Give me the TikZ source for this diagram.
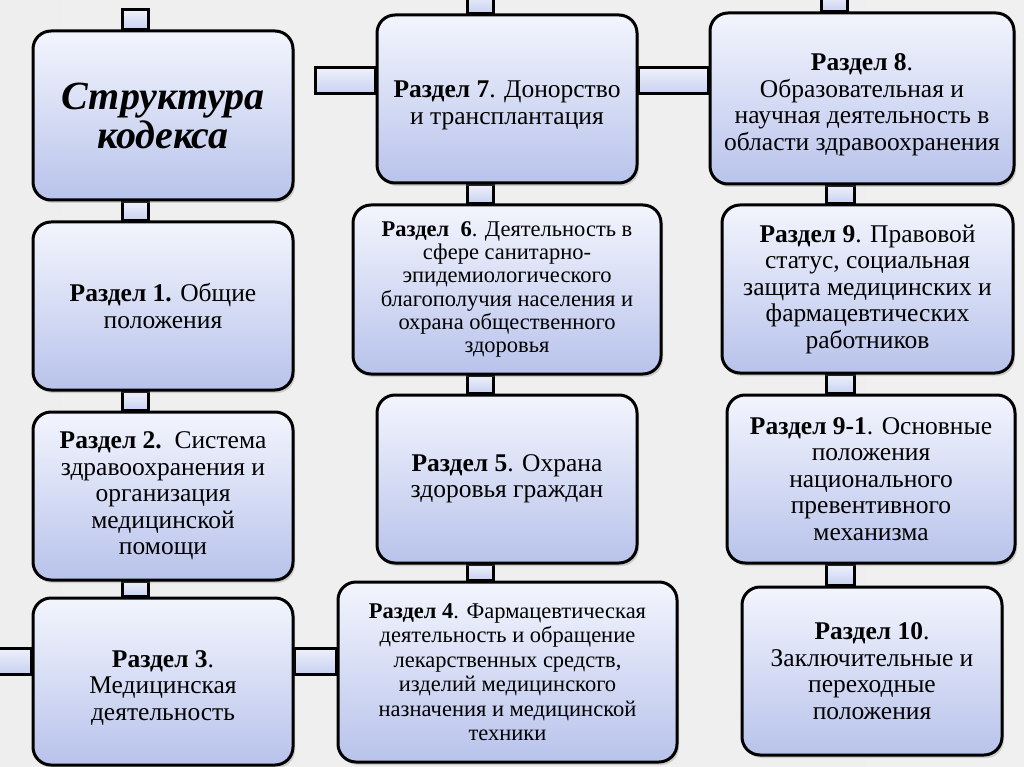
\documentclass[tikz,border=0pt]{standalone}
\usepackage{fontspec}
\setmainfont{Liberation Serif}[BoldItalicFont={Liberation Serif Bold Italic}]
\usepackage{xcolor}
\usepackage{tikz}
\usetikzlibrary{calc,shadows}
\definecolor{boxtop}{RGB}{243,245,253}
\definecolor{boxbot}{RGB}{184,195,235}
\definecolor{bartop}{RGB}{238,241,251}
\definecolor{barbot}{RGB}{200,208,240}
\newcommand{\abajo}{\rule{0pt}{29pt}}
\pgfdeclarelayer{fondo}
\pgfdeclarelayer{barras}
\pgfsetlayers{fondo,barras,main}
\tikzset{
  razdel/.style={draw=black,line width=3pt,rounded corners=18pt,top color=boxtop,bottom color=boxbot,
    align=center,inner sep=2pt,font=\fontsize{25.5}{26.5}\selectfont,
    drop shadow={shadow xshift=2pt,shadow yshift=-3pt,opacity=0.3,fill=gray}},
  svyaz/.style={draw=black,line width=3pt,top color=bartop,bottom color=barbot}
}

\begin{document}
\begin{tikzpicture}[x=1pt,y=-1pt]
\useasboundingbox (0,0) rectangle (1024,767);
\begin{pgfonlayer}{fondo}
\shade[left color=gray!13,middle color=white,right color=gray!12] (0,0) rectangle (1024,767);
\end{pgfonlayer}
% left column
\node[razdel,minimum width=260pt,minimum height=169pt,font=\fontsize{40}{39}\selectfont\bfseries\itshape] (t) at (163,115.5) {Структура\\кодекса};
\node[razdel,minimum width=260pt,minimum height=168pt] (r1) at (163,306) {\textbf{Раздел 1.} Общие\\положения};
\node[razdel,minimum width=260pt,minimum height=168pt] (r2) at (163,496) {\textbf{Раздел 2.}\ \ Система\\здравоохранения и\\организация\\медицинской\\помощи};
\node[razdel,minimum width=260pt,minimum height=167pt] (r3) at (163,681.5) {\abajo\textbf{Раздел 3}.\\Медицинская\\деятельность};
% middle column
\node[razdel,minimum width=260pt,minimum height=168pt] (r7) at (507,99) {\abajo\textbf{Раздел 7}. Донорство\\и трансплантация};
\node[razdel,minimum width=308pt,minimum height=169pt,font=\fontsize{22.5}{23.2}\selectfont] (r6) at (507,289.5) {\textbf{Раздел\ \ 6}. Деятельность в\\сфере санитарно-\\эпидемиологического\\благополучия населения и\\охрана общественного\\здоровья};
\node[razdel,minimum width=260pt,minimum height=168pt] (r5) at (507,479) {\textbf{Раздел 5}. Охрана\\здоровья граждан};
\node[razdel,minimum width=339pt,minimum height=180pt,font=\fontsize{22.5}{24.5}\selectfont] (r4) at (507.5,672) {\textbf{Раздел 4}. Фармацевтическая\\деятельность и обращение\\лекарственных средств,\\изделий медицинского\\назначения и медицинской\\техники};
% right column
\node[razdel,minimum width=304pt,minimum height=171pt] (r8) at (862,98.5) {\abajo\textbf{Раздел 8}.\\Образовательная и\\научная деятельность в\\области здравоохранения};
\node[razdel,minimum width=291pt,minimum height=168pt] (r9) at (867.5,289) {\textbf{Раздел 9}. Правовой\\статус, социальная\\защита медицинских и\\фармацевтических\\работников};
\node[razdel,minimum width=288pt,minimum height=168pt] (r91) at (871,479) {\textbf{Раздел 9-1}. Основные\\положения\\национального\\превентивного\\механизма};
\node[razdel,minimum width=260pt,minimum height=168pt] (r10) at (872,671) {\textbf{Раздел 10}.\\Заключительные и\\переходные\\положения};
% bars
\coordinate (vL) at (135,0); \coordinate (vM) at (480,0); \coordinate (vR) at (840,0);
\coordinate (tL) at (135,10); \coordinate (tM) at (480,-6); \coordinate (tR) at (834,-6);
\coordinate (hT) at (315,81); \coordinate (hB) at (-6,661);
\begin{pgfonlayer}{barras}
\draw[svyaz] ($(tL)+(-13,0)$) rectangle ($(t.north -| vL)+(13,0)$);
\draw[svyaz] ($(t.south -| vL)+(-13,0)$) rectangle ($(r1.north -| vL)+(13,0)$);
\draw[svyaz] ($(r1.south -| vL)+(-13,0)$) rectangle ($(r2.north -| vL)+(13,0)$);
\draw[svyaz] ($(r2.south -| vL)+(-13,0)$) rectangle ($(r3.north -| vL)+(13,0)$);
\draw[svyaz] ($(tM)+(-13,0)$) rectangle ($(r7.north -| vM)+(13,0)$);
\draw[svyaz] ($(r7.south -| vM)+(-13,0)$) rectangle ($(r6.north -| vM)+(13,0)$);
\draw[svyaz] ($(r6.south -| vM)+(-13,0)$) rectangle ($(r5.north -| vM)+(13,0)$);
\draw[svyaz] ($(r5.south -| vM)+(-13,0)$) rectangle ($(r4.north -| vM)+(13,0)$);
\draw[svyaz] ($(tR)+(-13,0)$) rectangle ($(r8.north -| tR)+(13,0)$);
\draw[svyaz] ($(r8.south -| vR)+(-14,0)$) rectangle ($(r9.north -| vR)+(14,0)$);
\draw[svyaz] ($(r9.south -| vR)+(-14,0)$) rectangle ($(r91.north -| vR)+(14,0)$);
\draw[svyaz] ($(r91.south -| vR)+(-14,0)$) rectangle ($(r10.north -| vR)+(14,0)$);
\draw[svyaz] ($(hT)+(0,-13)$) rectangle ($(r7.west |- hT)+(0,13)$);
\draw[svyaz] ($(r7.east |- hT)+(0,-13)$) rectangle ($(r8.west |- hT)+(0,13)$);
\draw[svyaz] ($(hB)+(0,-13)$) rectangle ($(r3.west |- hB)+(0,13)$);
\draw[svyaz] ($(r3.east |- hB)+(0,-13)$) rectangle ($(r4.west |- hB)+(0,13)$);
\end{pgfonlayer}
\end{tikzpicture}
\end{document}
